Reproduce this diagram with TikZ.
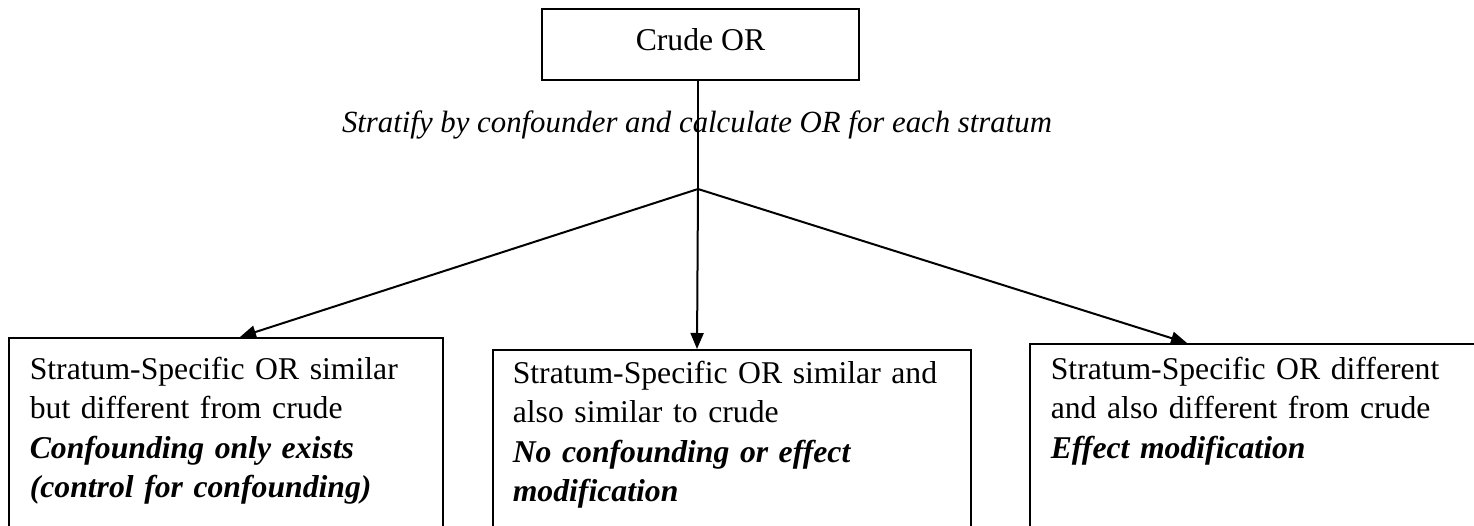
\documentclass[tikz,border=0pt]{standalone}
\usepackage{fontspec}
\setmainfont{Liberation Serif}
\usetikzlibrary{arrows.meta}

\begin{document}
\begin{tikzpicture}[
    x=1pt, y=-1pt,
    >={Triangle[length=16pt, width=13pt]},
    % Define the style for the nodes
    every node/.style={font=\fontsize{31.7pt}{39.5pt}\selectfont},
    crudebox/.style={draw=black, line width=2.4pt, minimum width=317pt, minimum height=71pt, inner sep=0pt, text depth=10.7pt},
    note/.style={font=\fontsize{30.8pt}{38pt}\selectfont\itshape, anchor=base},
    result/.style={draw=black, line width=1.6pt, anchor=north west, align=left, inner xsep=21pt, text depth=140pt},
    link/.style={line width=2pt}
]
    \useasboundingbox (0,0) rectangle (1474,525);
    \clip (0,0) rectangle (1474,525);

    % top
    \node[crudebox] (crude) at (700.5,44.5) {Crude OR};
    \node[note] (stratify) at (697,132) {Stratify by confounder and calculate OR for each stratum};
    \coordinate (branch) at (698,189);

    % results
    \node[result, inner ysep=19pt, text width=392pt] (left) at (8,337)
        {Stratum-Specific OR similar\\ but different from crude\\
         \textbf{\textit{Confounding only exists}}\\ \textbf{\textit{(control for confounding)}}};
    \node[result, inner xsep=20pt, inner ysep=11pt, text width=438pt] (mid) at (492,349)
        {Stratum-Specific OR similar and\\ also similar to crude\\
         \textbf{\textit{No confounding or effect}}\\ \textbf{\textit{modification}}};
    \node[result, inner ysep=13pt, text width=520pt] (right) at (1029,343)
        {Stratum-Specific OR different\\ and also different from crude\\
         \textbf{\textit{Effect modification}}};

    % connectors
    \draw[link] (crude.south -| branch) -- (branch);
    \draw[link, ->] (branch) -- ([xshift=232pt]left.north west);
    \draw[link, ->] (branch) -- ([xshift=205pt]mid.north west);
    \draw[link, ->] (branch) -- ([xshift=158pt]right.north west);

\end{tikzpicture}
\end{document}
